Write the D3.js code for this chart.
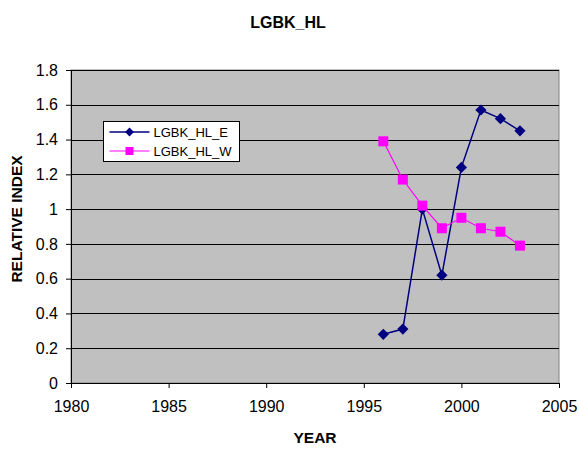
<!DOCTYPE html>
<html>
<head>
<meta charset="utf-8">
<script src="https://cdn.jsdelivr.net/npm/d3@7"></script>
<style>
  body { margin: 0; background: #fff; }
  text { font-family: "Liberation Sans", Arial, sans-serif; }
</style>
</head>
<body>
<div id="chart"></div>
<script>
var years = [1996, 1997, 1998, 1999, 2000, 2001, 2002, 2003];
var seriesE = [0.28, 0.31, 1.00, 0.62, 1.24, 1.57, 1.52, 1.45];
var seriesW = [1.39, 1.17, 1.02, 0.89, 0.95, 0.89, 0.87, 0.79];
var seriesNames = ["LGBK_HL_E", "LGBK_HL_W"];
var xTicks = [1980, 1985, 1990, 1995, 2000, 2005];
var yTicks = [0, 0.2, 0.4, 0.6, 0.8, 1, 1.2, 1.4, 1.6, 1.8];

var svgWidth = 579;
var svgHeight = 451;
var margins = {top: 70, right: 20, bottom: 68, left: 71};
var width = 559 - margins.left;
var height = 383 - margins.top;

var svg = d3.select("#chart")
    .append("svg")
    .attr("width", svgWidth)
    .attr("height", svgHeight);

var canvas = svg.append("g")
    .attr("transform", "translate(" + margins.left + "," + margins.top + ")");

var xScale = d3.scaleLinear().domain([1980, 2005]).range([0, width]);
var yScale = d3.scaleLinear().domain([0, 1.8]).range([height, 0]);

// plot background
canvas.append("rect")
    .attr("width", width)
    .attr("height", height)
    .attr("fill", "#c0c0c0")
    .attr("stroke", "#808080")
    .attr("stroke-width", 1);

// gridlines
canvas.selectAll(".grid")
    .data(yTicks.slice(1))
    .enter()
    .append("line")
    .attr("x1", 0)
    .attr("x2", width)
    .attr("y1", d => Math.round(yScale(d)) + 0.5)
    .attr("y2", d => Math.round(yScale(d)) + 0.5)
    .attr("stroke", "#000")
    .attr("stroke-width", 1);

var xAxis = d3.axisBottom(xScale)
    .tickValues(xTicks)
    .tickFormat(d3.format("d"))
    .tickSizeInner(5)
    .tickSizeOuter(0)
    .tickPadding(13);

var yAxis = d3.axisLeft(yScale)
    .tickValues(yTicks)
    .tickFormat(d => String(d))
    .tickSizeInner(5)
    .tickSizeOuter(0)
    .tickPadding(8);

var xAxisGroup = canvas.append("g")
    .attr("transform", "translate(0," + height + ")")
    .call(xAxis);

var yAxisGroup = canvas.append("g")
    .call(yAxis);

[xAxisGroup, yAxisGroup].forEach(function (g) {
    g.selectAll("text").style("font-size", "16px").attr("fill", "#000");
    g.select(".domain").attr("stroke", "#000");
    g.selectAll(".tick line").attr("stroke", "#000");
});

var line = d3.line()
    .x((d, i) => xScale(years[i]))
    .y(d => yScale(d));

// series E
canvas.append("path")
    .datum(seriesE)
    .attr("d", line)
    .attr("fill", "none")
    .attr("stroke", "#000080")
    .attr("stroke-width", 1.5);

canvas.selectAll(".markE")
    .data(seriesE)
    .enter()
    .append("path")
    .attr("d", d3.symbol().type(d3.symbolDiamond2).size(80))
    .attr("transform", (d, i) => "translate(" + xScale(years[i]) + "," + yScale(d) + ")")
    .attr("fill", "#000080");

// series W
canvas.append("path")
    .datum(seriesW)
    .attr("d", line)
    .attr("fill", "none")
    .attr("stroke", "#ff00ff")
    .attr("stroke-width", 1.2);

canvas.selectAll(".markW")
    .data(seriesW)
    .enter()
    .append("rect")
    .attr("x", (d, i) => xScale(years[i]) - 5)
    .attr("y", d => yScale(d) - 5)
    .attr("width", 10)
    .attr("height", 10)
    .attr("fill", "#ff00ff");

// legend
var legend = svg.append("g").attr("transform", "translate(103.5,121.5)");
legend.append("rect")
    .attr("width", 136)
    .attr("height", 40)
    .attr("fill", "#fff")
    .attr("stroke", "#000");

var legendRow = legend.selectAll(".row")
    .data(seriesNames)
    .enter()
    .append("g")
    .attr("transform", (d, i) => "translate(0," + (10.5 + i * 19) + ")");

legendRow.append("line")
    .attr("x1", 6).attr("x2", 46)
    .attr("stroke", (d, i) => i === 0 ? "#000080" : "#ff00ff")
    .attr("stroke-width", (d, i) => i === 0 ? 1.5 : 1.2);

legendRow.each(function (d, i) {
    var g = d3.select(this);
    if (i === 0) {
        g.append("path")
            .attr("d", d3.symbol().type(d3.symbolDiamond2).size(50))
            .attr("transform", "translate(26,0)")
            .attr("fill", "#000080");
    } else {
        g.append("rect")
            .attr("x", 22).attr("y", -4)
            .attr("width", 8).attr("height", 8)
            .attr("fill", "#ff00ff");
    }
});

legendRow.append("text")
    .attr("x", 50)
    .attr("y", 4.5)
    .style("font-size", "13px")
    .text(d => d);

// title and axis titles
svg.append("text")
    .attr("x", 288)
    .attr("y", 28)
    .attr("text-anchor", "middle")
    .style("font-size", "16px")
    .style("font-weight", "bold")
    .text("LGBK_HL");

svg.append("text")
    .attr("x", 315)
    .attr("y", 443)
    .attr("text-anchor", "middle")
    .style("font-size", "15.5px")
    .style("font-weight", "bold")
    .text("YEAR");

svg.append("text")
    .attr("transform", "translate(21.5,219) rotate(-90)")
    .attr("text-anchor", "middle")
    .style("font-size", "15.5px")
    .style("font-weight", "bold")
    .text("RELATIVE INDEX");
</script>
</body>
</html>
